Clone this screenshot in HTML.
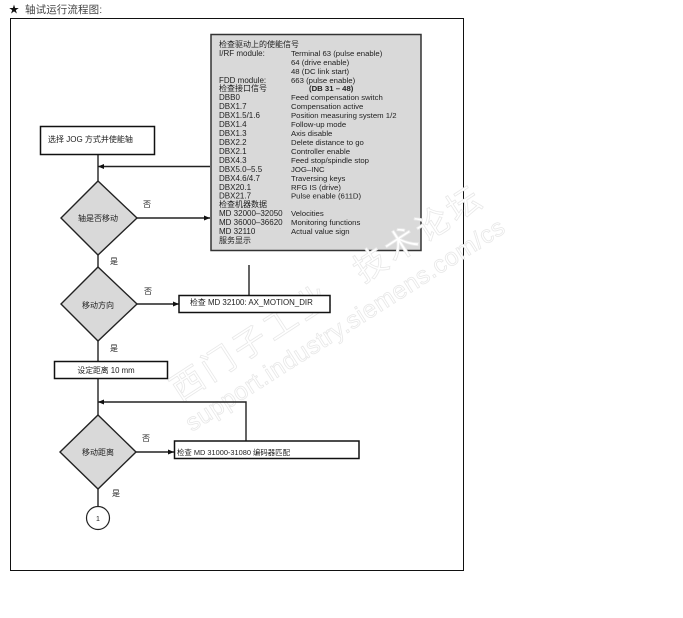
<!DOCTYPE html>
<html><head><meta charset="utf-8"><style>
html,body{margin:0;padding:0;background:#fff;width:683px;height:618px;overflow:hidden}
svg{display:block;filter:blur(.3px)}
text{font-family:"Liberation Sans","Noto Sans CJK SC",sans-serif;fill:#222}
.t{font-size:8px}
.q{font-size:7.75px}
.c{font-size:8px;text-anchor:middle}
.r{font-size:8px}
.w{fill:#fff;stroke:#e8e8e8;stroke-width:.8px}
.l{fill:none;stroke:#222;stroke-width:1.4}
.b{fill:#fff;stroke:#111;stroke-width:1.5}
.d{fill:#d9d9d9;stroke:#222;stroke-width:1.4}
.a{fill:#111}
</style></head><body>
<svg width="683" height="618" viewBox="0 0 683 618" xmlns="http://www.w3.org/2000/svg">
<rect width="683" height="618" fill="#fff"/>
<text x="9" y="13" style="font-size:10px;fill:#111">★</text>
<text x="25" y="13" style="font-size:10.5px;letter-spacing:.1px;fill:#444">轴试运行流程图:</text>
<rect x="10.5" y="18.5" width="453" height="552" fill="#fff" stroke="#111" stroke-width="1"/>

<rect x="211" y="34.5" width="210" height="216" fill="#d9d9d9" stroke="#333" stroke-width="1.5"/>

<g transform="translate(180,402) rotate(-33)">
<text class="w" x="0" y="0" style="font-size:33px;letter-spacing:4px">西门子工业</text>
<text class="w" x="218" y="0" style="font-size:33px;letter-spacing:4px">技术论坛</text>
</g>
<text class="w" transform="translate(192,432) rotate(-32.5)" style="font-size:24.5px;letter-spacing:.6px">support.industry.siemens.com/cs</text>

<g class="t">
<text x="219" y="47">检查驱动上的使能信号</text>
<text x="219" y="56">I/RF module:</text><text class="q" x="291" y="56">Terminal 63 (pulse enable)</text>
<text class="q" x="291" y="65">64 (drive enable)</text>
<text class="q" x="291" y="74">48 (DC link start)</text>
<text x="219" y="83">FDD module:</text><text class="q" x="291" y="83">663 (pulse enable)</text>
<text x="219" y="91">检查接口信号</text><text class="q" x="309" y="91" font-weight="bold">(DB 31 – 48)</text>
<text x="219" y="100">DBB0</text><text class="q" x="291" y="100">Feed compensation switch</text>
<text x="219" y="109">DBX1.7</text><text class="q" x="291" y="109">Compensation active</text>
<text x="219" y="118">DBX1.5/1.6</text><text class="q" x="291" y="118">Position measuring system 1/2</text>
<text x="219" y="127">DBX1.4</text><text class="q" x="291" y="127">Follow-up mode</text>
<text x="219" y="136">DBX1.3</text><text class="q" x="291" y="136">Axis disable</text>
<text x="219" y="145">DBX2.2</text><text class="q" x="291" y="145">Delete distance to go</text>
<text x="219" y="154">DBX2.1</text><text class="q" x="291" y="154">Controller enable</text>
<text x="219" y="163">DBX4.3</text><text class="q" x="291" y="163">Feed stop/spindle stop</text>
<text x="219" y="172">DBX5.0–5.5</text><text class="q" x="291" y="172">JOG–INC</text>
<text x="219" y="181">DBX4.6/4.7</text><text class="q" x="291" y="181">Traversing keys</text>
<text x="219" y="190">DBX20.1</text><text class="q" x="291" y="190">RFG IS (drive)</text>
<text x="219" y="198.5">DBX21.7</text><text class="q" x="291" y="198.5">Pulse enable (611D)</text>
<text x="219" y="207">检查机器数据</text>
<text x="219" y="216">MD 32000–32050</text><text class="q" x="291" y="216">Velocities</text>
<text x="219" y="225">MD 36000–36620</text><text class="q" x="291" y="225">Monitoring functions</text>
<text x="219" y="234">MD 32110</text><text class="q" x="291" y="234">Actual value sign</text>
<text x="219" y="243">服务显示</text>
</g>

<path class="l" d="M98 154V181M98 255V267M98 341V361M98 378V415M98 489V507"/>
<path class="l" d="M98 166.5H210M137 218H210M137 304H179M136 452H174M98 402H246V441M249 265V295"/>
<path class="a" d="M98 166.5l6-2.5v5zM210 218l-6-2.5v5zM179 304l-6-2.5v5zM174 452l-6-2.5v5zM98 402l6-2.5v5z"/>

<rect class="b" x="40.5" y="126.5" width="114" height="28"/>
<text x="48" y="142" style="font-size:8px">选择 JOG 方式并使能轴</text>

<polygon class="d" points="98,181 137,218 98,255 61,218"/>
<text class="c" x="98" y="221">轴是否移动</text>
<polygon class="d" points="98,267 137,304 98,341 61,304"/>
<text class="c" x="98" y="308">移动方向</text>
<polygon class="d" points="98,415 136,452 98,489 60,452"/>
<text class="c" x="98" y="455">移动距离</text>

<rect class="b" x="179" y="295.5" width="151" height="17" stroke-width="1.2"/>
<text x="190" y="305" style="font-size:7.9px">检查 MD 32100: AX_MOTION_DIR</text>
<rect class="b" x="54.5" y="361.5" width="113" height="17" stroke-width="1"/>
<text class="c" x="106" y="373" style="font-size:7.8px">设定距离 10 mm</text>
<rect class="b" x="174.5" y="441" width="184.5" height="17.5" stroke-width="1.2"/>
<text x="177" y="455" style="font-size:7.4px">检查 MD 31000-31080 编码器匹配</text>

<circle cx="98" cy="518" r="11.5" fill="#fff" stroke="#222" stroke-width="1.2"/>
<text class="c" x="98" y="521" style="font-size:7px">1</text>

<g class="r">
<text x="143" y="207">否</text>
<text x="110" y="264">是</text>
<text x="144" y="294">否</text>
<text x="110" y="351">是</text>
<text x="142" y="441">否</text>
<text x="112" y="496">是</text>
</g>
</svg>
</body></html>
